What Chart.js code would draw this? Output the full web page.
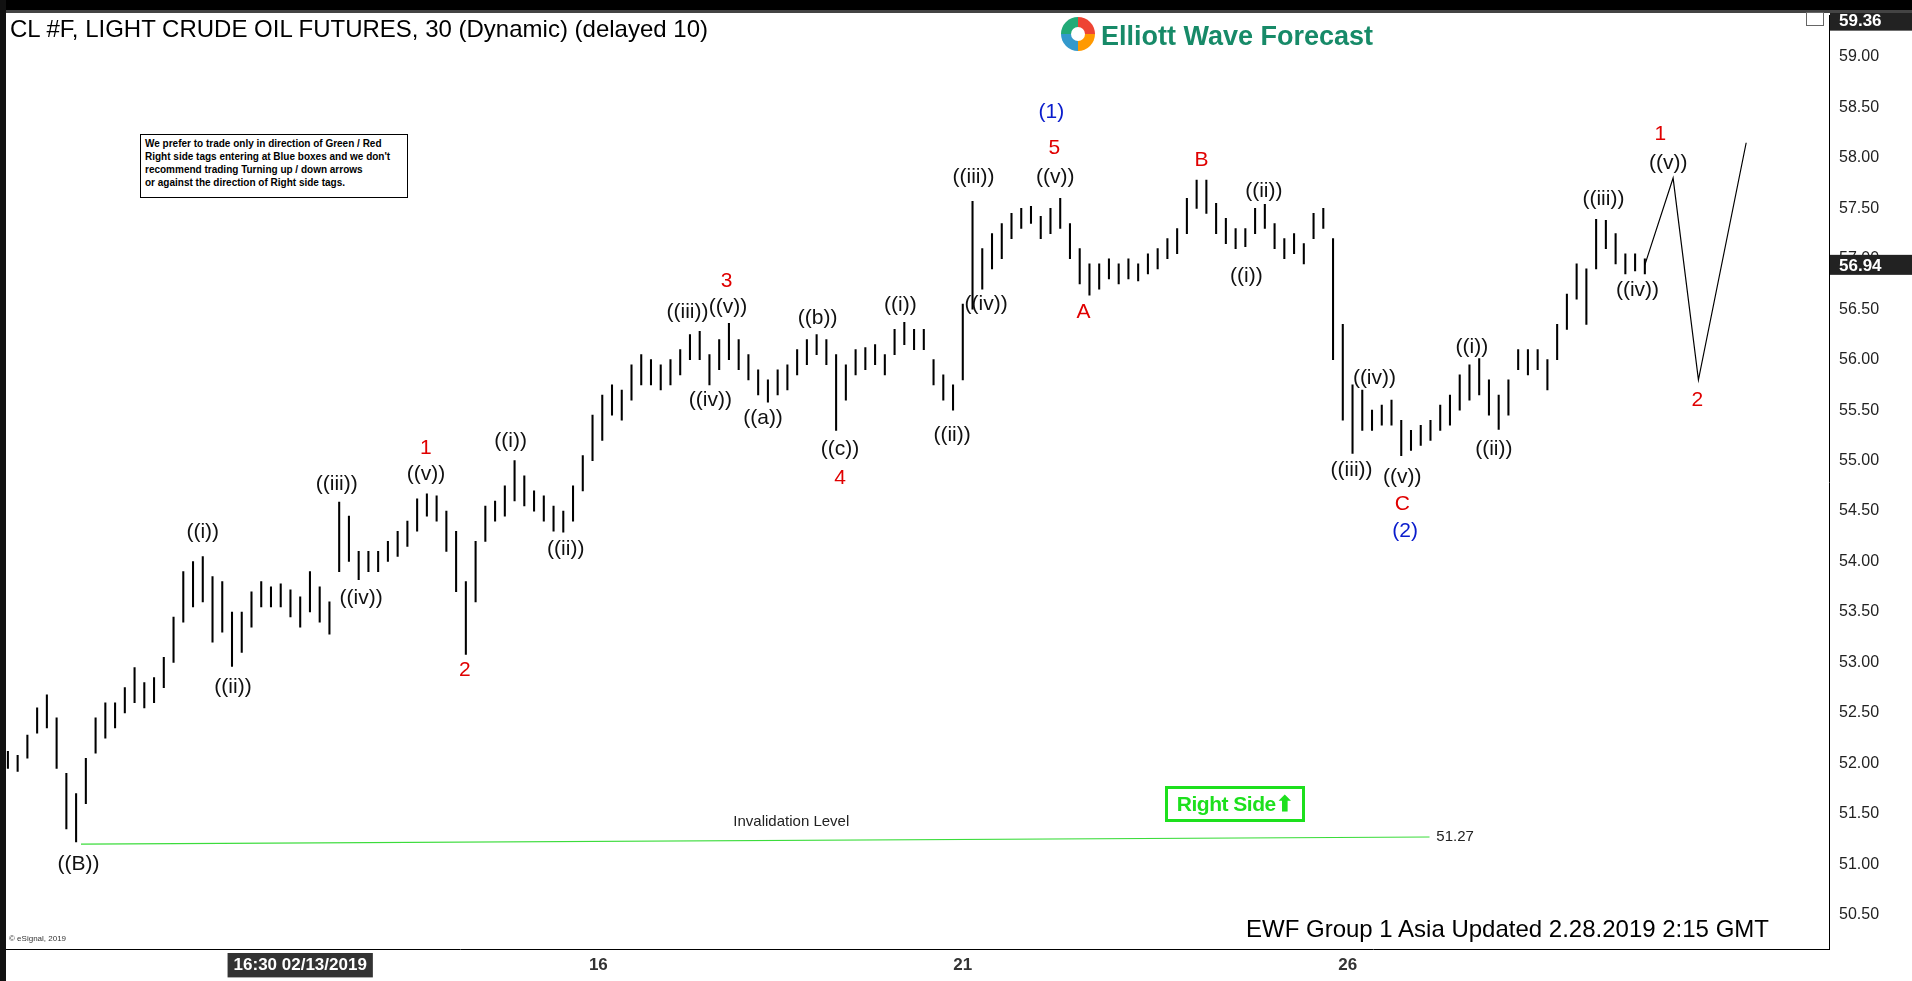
<!DOCTYPE html>
<html><head><meta charset="utf-8">
<script src="https://cdn.jsdelivr.net/npm/chart.js@4"></script>
<style>
html,body{margin:0;padding:0;background:#fff;width:1912px;height:981px;overflow:hidden;font-family:"Liberation Sans",Arial,sans-serif}
#wrap{position:absolute;left:0;top:0;width:1912px;height:981px}
.abs{position:absolute}
</style></head><body>
<div id="wrap"><canvas id="c" width="1912" height="981"></canvas></div>
<div class="abs" style="left:0;top:0;width:1912px;height:10px;background:#000"></div>
<div class="abs" style="left:0;top:10px;width:1912px;height:3px;background:#444"></div>
<div class="abs" style="left:0;top:0;width:6px;height:981px;background:#111"></div>
<div class="abs" style="left:10px;top:15px;font-size:24px;color:#000">CL #F, LIGHT CRUDE OIL FUTURES, 30 (Dynamic) (delayed 10)</div>
<div class="abs" style="left:1061px;top:17px;width:34px;height:34px;border-radius:50%;background:conic-gradient(#e43 0 25%,#f90 25% 50%,#39c 50% 75%,#2a7 75% 100%)"></div>
<div class="abs" style="left:1071px;top:27px;width:14px;height:14px;border-radius:50%;background:#fff"></div>
<div class="abs" style="left:1101px;top:21px;font-size:27px;font-weight:bold;color:#178a68">Elliott Wave Forecast</div>
<div class="abs" style="left:140px;top:134px;width:268px;height:64px;border:1px solid #000;background:#fff;font-size:10px;font-weight:bold;line-height:13px;padding:2px 0 0 4px;box-sizing:border-box">We prefer to trade only in direction of Green / Red<br>Right side tags entering at Blue boxes and we don't<br>recommend trading Turning up / down arrows<br>or against the direction of Right side tags.</div>
<div class="abs" style="left:1165px;top:786px;width:140px;height:36px;border:3px solid #1de01d;box-sizing:border-box;font-size:21px;font-weight:bold;color:#1de01d;text-align:center;line-height:30px;letter-spacing:-0.5px">Right Side&#x2B06;</div>
<div class="abs" style="left:1246px;top:915px;font-size:24px;color:#000">EWF Group 1 Asia Updated 2.28.2019 2:15 GMT</div>
<div class="abs" style="left:9px;top:934px;font-size:8px;color:#333">© eSignal, 2019</div>
<div class="abs" style="left:1806px;top:12px;width:18px;height:14px;border:1px solid #666;box-sizing:border-box"></div>
<script>
const lows=[51.95,51.92,52.05,52.3,52.35,51.95,51.35,51.22,51.6,52.1,52.25,52.35,52.5,52.6,52.55,52.6,52.75,53.0,53.4,53.55,53.6,53.2,53.3,52.96,53.1,53.35,53.55,53.55,53.55,53.45,53.35,53.5,53.4,53.28,53.9,54.0,53.82,53.9,53.9,54.0,54.05,54.15,54.3,54.45,54.4,54.1,53.7,53.08,53.6,54.2,54.4,54.45,54.6,54.55,54.5,54.4,54.3,54.29,54.4,54.7,55.0,55.2,55.45,55.4,55.6,55.75,55.75,55.7,55.75,55.85,56.0,56.0,55.75,55.9,56.0,55.9,55.8,55.65,55.58,55.65,55.7,55.85,55.95,56.05,55.95,55.3,55.6,55.85,55.9,55.95,55.85,56.05,56.15,56.1,56.1,55.75,55.6,55.5,55.8,56.5,56.7,56.9,57.0,57.2,57.3,57.35,57.2,57.25,57.3,57.0,56.75,56.64,56.7,56.8,56.75,56.8,56.78,56.85,56.9,57.0,57.05,57.25,57.5,57.45,57.25,57.15,57.1,57.12,57.25,57.3,57.1,57.0,57.05,56.95,57.2,57.3,56.0,55.4,55.07,55.3,55.3,55.35,55.35,55.05,55.1,55.15,55.2,55.3,55.35,55.5,55.6,55.65,55.45,55.31,55.45,55.9,55.85,55.9,55.7,56.0,56.3,56.6,56.35,56.9,57.1,56.95,56.85,56.88,56.85];
const highs=[52.12,52.08,52.28,52.55,52.68,52.45,51.9,51.7,52.05,52.45,52.6,52.6,52.75,52.95,52.8,52.85,53.05,53.45,53.9,54.0,54.05,53.85,53.8,53.5,53.5,53.7,53.8,53.75,53.78,53.72,53.65,53.9,53.75,53.6,54.59,54.45,54.1,54.1,54.1,54.2,54.3,54.4,54.62,54.67,54.65,54.5,54.3,53.8,54.2,54.55,54.6,54.75,55.0,54.85,54.7,54.65,54.55,54.5,54.75,55.05,55.45,55.65,55.75,55.7,55.95,56.05,56.0,55.95,56.0,56.1,56.25,56.28,56.05,56.2,56.36,56.2,56.05,55.9,55.8,55.9,55.95,56.1,56.2,56.25,56.2,56.05,55.95,56.1,56.12,56.15,56.05,56.3,56.37,56.3,56.3,56.0,55.85,55.75,56.55,57.57,57.1,57.25,57.35,57.45,57.5,57.52,57.42,57.5,57.6,57.35,57.1,56.95,56.95,57.0,56.95,57.0,56.95,57.05,57.1,57.2,57.3,57.6,57.78,57.78,57.55,57.4,57.3,57.3,57.5,57.54,57.35,57.2,57.25,57.15,57.45,57.5,57.2,56.35,55.75,55.7,55.5,55.55,55.6,55.4,55.3,55.35,55.4,55.55,55.65,55.85,55.95,56.01,55.8,55.65,55.8,56.1,56.1,56.1,56.0,56.35,56.65,56.95,56.9,57.39,57.38,57.25,57.05,57.05,57.0];
const projX=[168,170.9,173.5,178.4];
const projY=[56.94,57.8,55.8,58.15];
const invalX=[7.5,145.9];
const invalY=[51.2,51.27];
const lastPrice=56.94, topPrice=59.36;
const xTickPos=[30,60.6,98,137.5];
const xTickText=["16:30 02/13/2019","16","21","26"];
const lblText=["((B))","((i))","((ii))","((iii))","((iv))","1","((v))","2","((i))","((ii))","((iii))","3","((v))","((iv))","((a))","((b))","((c))","4","((i))","((ii))","((iii))","((iv))","(1)","5","((v))","A","B","((ii))","((i))","((iv))","((iii))","((v))","C","(2)","((i))","((ii))","((iii))","((iv))","1","((v))","2"];
const lblX=[7.25,20,23.1,33.75,36.25,42.9,42.9,46.9,51.6,57.25,69.75,73.75,73.9,72.1,77.5,83.1,85.4,85.4,91.6,96.9,99.1,100.4,107.1,107.4,107.5,110.4,122.5,128.9,127.1,140.25,137.9,143.1,143.1,143.4,150.25,152.5,163.75,167.25,169.6,170.4,173.4];
const lblY=[51.0,54.29,52.75,54.77,53.64,55.12,54.87,52.92,55.19,54.12,56.47,56.78,56.52,55.6,55.42,56.41,55.11,54.83,56.54,55.25,57.81,56.55,58.45,58.1,57.81,56.47,57.98,57.67,56.83,55.82,54.9,54.84,54.57,54.3,56.12,55.11,57.59,56.69,58.23,57.95,55.6];
const lblCol=["k","k","k","k","k","r","k","r","k","k","k","r","k","k","k","k","k","r","k","k","k","k","b","r","k","r","r","k","k","k","k","k","r","b","k","k","k","k","r","k","r"];
const COL={k:"#111",r:"#e00000",b:"#0a1ccc"};

const barData=lows.map((l,i)=>({x:i,y:[l,highs[i]]}));
const overlay={id:'overlay',afterDatasetsDraw(ch){
  const c=ch.ctx,xs=ch.scales.x,ys=ch.scales.y;
  c.save();c.textAlign='center';c.textBaseline='middle';
  c.font='21px "Liberation Sans", Arial';
  lblText.forEach((t,i)=>{c.fillStyle=COL[lblCol[i]];c.fillText(t,xs.getPixelForValue(lblX[i]),ys.getPixelForValue(lblY[i]));});
  c.font='15px "Liberation Sans", Arial';c.fillStyle='#222';
  c.fillText('Invalidation Level',xs.getPixelForValue(80.4),ys.getPixelForValue(51.42));
  c.textAlign='left';c.fillText('51.27',xs.getPixelForValue(146.6),ys.getPixelForValue(51.27));
  c.font='bold 17px "Liberation Sans", Arial';
  [topPrice,lastPrice].forEach(p=>{const y=ys.getPixelForValue(p);c.fillStyle='#222';c.fillRect(ys.left+1,y-10,ys.right-ys.left-1,20);c.fillStyle='#fff';c.textAlign='left';c.fillText(p.toFixed(2),ys.left+10,y+1);});
  c.restore();
}};
new Chart(document.getElementById('c'),{
  data:{datasets:[
    {type:'bar',data:barData,backgroundColor:'#000',borderWidth:0,barThickness:1.4,grouped:false},
    {type:'line',data:projX.map((x,i)=>({x,y:projY[i]})),borderColor:'#000',borderWidth:1.2,pointRadius:0,tension:0},
    {type:'line',data:invalX.map((x,i)=>({x,y:invalY[i]})),borderColor:'#3bdc3b',borderWidth:1.2,pointRadius:0,tension:0}
  ]},
  options:{responsive:false,animation:false,events:[],
    layout:{padding:{left:4,top:13,right:0,bottom:0}},
    plugins:{legend:{display:false},tooltip:{enabled:false}},
    scales:{
      x:{type:'linear',min:-0.4,max:186.9,offset:false,bounds:'ticks',grid:{display:false,drawTicks:false,offset:false},border:{color:'#000'},
        afterFit(s){s.height=32;},
        afterBuildTicks(s){s.ticks=xTickPos.map(v=>({value:v}));},
        ticks:{autoSkip:false,maxRotation:0,padding:6,font:{size:17,family:'"Liberation Sans", Arial',weight:'bold'},
          callback:(v,i)=>xTickText[i],
          color:c=>c.index===0?'#fff':'#333',
          showLabelBackdrop:true,backdropColor:c=>c.index===0?'#333':'rgba(0,0,0,0)',backdropPadding:{left:6,right:6,top:2,bottom:2}}},
      y:{position:'right',min:50.16,max:59.41,grid:{display:false,drawTicks:true,tickLength:4,tickColor:'#000'},border:{color:'#000'},
        afterFit(s){s.width=83;},
        afterBuildTicks(s){const t=[];for(let v=50.5;v<=59.001;v+=0.5)t.push({value:+v.toFixed(2)});s.ticks=t;},
        ticks:{padding:6,color:'#222',font:{size:16,family:'"Liberation Sans", Arial'},callback:v=>(+v).toFixed(2)}}
    }},
  plugins:[overlay]
});
</script></body></html>
